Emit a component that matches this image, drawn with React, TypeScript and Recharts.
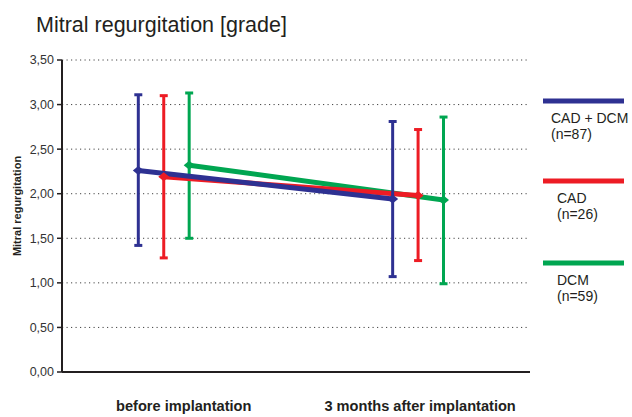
import React from 'react';
import { ComposedChart, Line, XAxis, YAxis, CartesianGrid, ErrorBar } from 'recharts';

const categories = ['before implantation', '3 months after implantation'];
const categoryLabelShift = [20, 2];

const seriesNames = ['CAD + DCM', 'CAD', 'DCM'];
const seriesCounts = [87, 26, 59];
const seriesColors = ['#2e3192', '#ed1c24', '#00a651'];
const groupOffsets = [-0.1, 0, 0.1];

// mean and lower / upper limit of the error bars per time point
const meanCadDcm = [2.26, 1.94];
const lowCadDcm = [1.42, 1.07];
const highCadDcm = [3.11, 2.81];

const meanCad = [2.19, 1.98];
const lowCad = [1.28, 1.25];
const highCad = [3.1, 2.72];

const meanDcm = [2.32, 1.93];
const lowDcm = [1.5, 0.99];
const highDcm = [3.13, 2.86];

const yTicks = [0, 0.5, 1, 1.5, 2, 2.5, 3, 3.5];

const means = [meanCadDcm, meanCad, meanDcm];
const lows = [lowCadDcm, lowCad, lowDcm];
const highs = [highCadDcm, highCad, highDcm];

const series = seriesNames.map((name, s) => ({
  name,
  color: seriesColors[s],
  data: categories.map((_, i) => ({
    x: i + groupOffsets[s],
    y: means[s][i],
    err: [means[s][i] - lows[s][i], highs[s][i] - means[s][i]],
  })),
}));

const fmt = (v: number) => v.toFixed(2).replace('.', ',');

const Diamond = (props: any) => {
  const { cx, cy, stroke } = props;
  if (cx == null || cy == null) return null;
  return (
    <path
      d={`M${cx - 5.5},${cy} L${cx},${cy - 4.5} L${cx + 5.5},${cy} L${cx},${cy + 4.5} Z`}
      fill={stroke}
      stroke="none"
    />
  );
};

const CategoryTick = (props: any) => {
  const { x, y, payload } = props;
  const i = Math.round(payload.value);
  return (
    <text
      x={x + categoryLabelShift[i]}
      y={y + 31}
      textAnchor="middle"
      fontSize={14.6}
      fontWeight="bold"
      fill="#231f20"
    >
      {categories[i]}
    </text>
  );
};

const font = 'Liberation Sans, Arial, sans-serif';

export default function App() {
  // draw green first so blue ends up on top
  const drawOrder = [2, 1, 0];
  return (
    <div style={{ position: 'absolute', left: 0, top: 0, width: 632, height: 417, background: '#fff', fontFamily: font }}>
      <ComposedChart
        width={632}
        height={417}
        margin={{ top: 60, right: 102, bottom: 0, left: 0 }}
      >
        <CartesianGrid
          horizontal
          vertical={false}
          stroke="#444"
          strokeDasharray="1.2 3.3"
          strokeWidth={1}
          horizontalValues={yTicks.filter(t => t > 0)}
        />
        <XAxis
          type="number"
          dataKey="x"
          domain={[-0.4, 1.44]}
          ticks={[0, 1]}
          allowDuplicatedCategory={false}
          tick={<CategoryTick />}
          tickLine={false}
          axisLine={{ stroke: '#231f20', strokeWidth: 2 }}
          height={45}
        />
        <YAxis
          type="number"
          domain={[0, 3.5]}
          ticks={yTicks}
          tickFormatter={fmt}
          width={62}
          tickSize={5}
          tickMargin={3}
          tickLine={{ stroke: '#231f20', strokeWidth: 1.5 }}
          axisLine={{ stroke: '#231f20', strokeWidth: 2 }}
          tick={{ fontSize: 12.5, fill: '#333', fontFamily: font }}
        />
        {drawOrder.map(s => (
          <Line
            key={series[s].name}
            data={series[s].data}
            dataKey="y"
            name={series[s].name}
            type="linear"
            stroke={series[s].color}
            strokeWidth={5}
            dot={<Diamond />}
            activeDot={false}
            isAnimationActive={false}
          >
            <ErrorBar
              dataKey="err"
              direction="y"
              width={4}
              strokeWidth={3}
              stroke={series[s].color}
              isAnimationActive={false}
            />
          </Line>
        ))}
      </ComposedChart>
      <svg
        width={632}
        height={417}
        style={{ position: 'absolute', left: 0, top: 0, pointerEvents: 'none' }}
        fontFamily={font}
      >
        <text x={36} y={32} fontSize={21.5} fill="#231f20">
          Mitral regurgitation [grade]
        </text>
        <text
          transform="translate(21,206) rotate(-90)"
          textAnchor="middle"
          fontSize={11}
          fontWeight="bold"
          fill="#231f20"
        >
          Mitral regurgitation
        </text>
        {series.map((sr, s) => {
          const top = [101, 181, 263][s];
          const textX = s === 0 ? 551 : 557;
          return (
            <g key={sr.name}>
              <line x1={543} x2={624} y1={top} y2={top} stroke={sr.color} strokeWidth={5} />
              <text x={textX} y={top + 22} fontSize={14} fill="#231f20">
                {sr.name}
              </text>
              <text x={textX} y={top + 38} fontSize={14} fill="#231f20">
                {`(n=${seriesCounts[s]})`}
              </text>
            </g>
          );
        })}
      </svg>
    </div>
  );
}
